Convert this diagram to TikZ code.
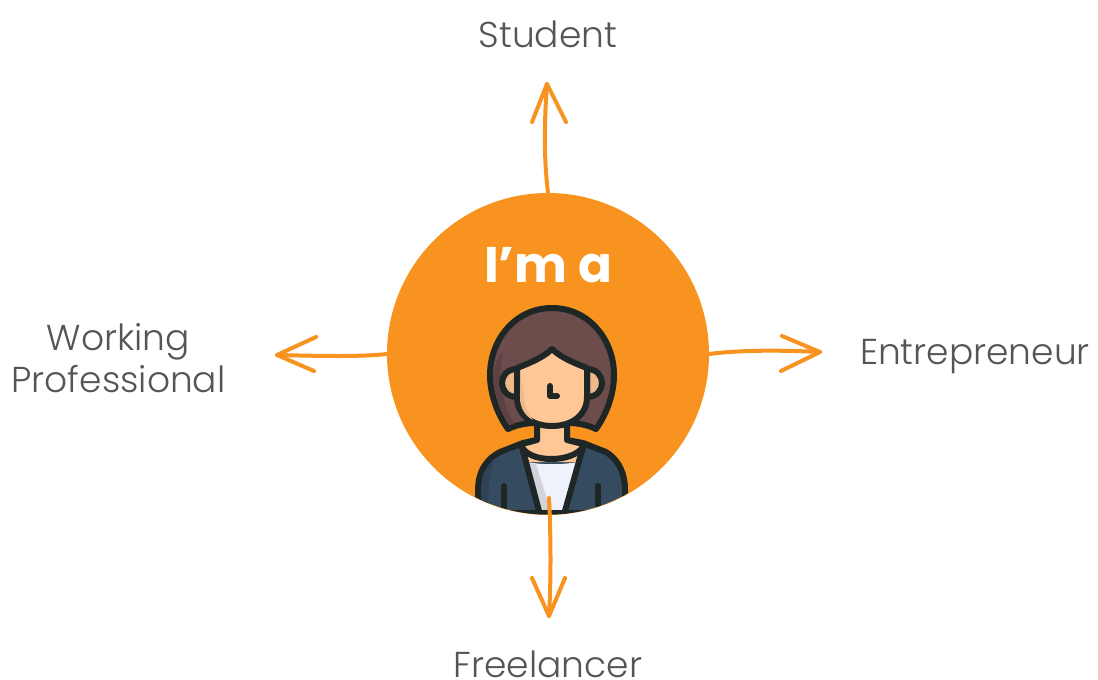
\documentclass[tikz,border=0pt]{standalone}
\usepackage{fontspec}
\setmainfont{Poppins}[UprightFont=* Light,BoldFont=* Bold]
\definecolor{org}{HTML}{F7931E}
\definecolor{ink}{HTML}{1F2626}
\definecolor{hairc}{HTML}{6D4C4C}
\definecolor{hairdk}{HTML}{5E4142}
\definecolor{skin}{HTML}{FEC795}
\definecolor{skindk}{HTML}{EEB98A}
\definecolor{jack}{HTML}{344B60}
\definecolor{jackdk}{HTML}{2E4357}
\definecolor{shirt}{HTML}{EEF2FB}
\definecolor{shirtdk}{HTML}{D0D3DA}
\definecolor{txt}{HTML}{555555}
\tikzset{
  hubnode/.style={circle,fill=org,inner sep=0pt,minimum size=322pt},
  lab/.style={text=txt,font=\fontsize{36}{42}\selectfont,align=center,inner sep=0pt},
  conn/.style={draw=org,line width=4pt,line cap=round,line join=round},
  fig/.style={draw=ink,line width=6pt,line cap=round,line join=round},
}
\begin{document}
\begin{tikzpicture}[x=1pt,y=-1pt]
\useasboundingbox (0,0) rectangle (1098,680);
\node[hubnode] (hub) at (548,354) {};
\node[font=\fontsize{50}{50}\selectfont\bfseries,text=white,inner sep=0pt] (title) at (548,265) {I’m a};
\node[lab] (student) at (548,34) {Student};
\node[lab] (entre) at (975,357) {Entrepreneur};
\node[lab] (freel) at (548,664) {Freelancer};
\node[lab] (work) at (118.5,358.5) {Working\\Professional};
\coordinate (tt) at (547,84);
\coordinate (tr) at (820,352);
\coordinate (tb) at (549,616);
\coordinate (tl) at (277,355);
\coordinate (bs) at (549,498);
\begin{scope}
\clip (548,354) circle (160.5);
% hair
\path[fig,fill=hairc] (552,308) .. controls (515,308) and (490,340) .. (490,375)
  .. controls (490,395) and (498,415) .. (508,429)
  .. controls (516,425) and (526,423) .. (536,423) -- (568,423)
  .. controls (578,423) and (588,425) .. (596,429)
  .. controls (606,415) and (614,395) .. (614,375)
  .. controls (614,340) and (589,308) .. (552,308) -- cycle;
\fill[hairdk] (494,375) .. controls (494,395) and (500,412) .. (510,425) -- (514,424)
  .. controls (503,405) and (497,380) .. (503,352) .. controls (497,358) and (494,366) .. (494,375) -- cycle;
% ears
\path[fig,fill=skindk] (517,369) .. controls (507,369) and (502,376) .. (502,383) .. controls (502,390) and (507,397) .. (517,397) -- cycle;
\path[fig,fill=skindk] (587,369) .. controls (597,369) and (602,376) .. (602,383) .. controls (602,390) and (597,397) .. (587,397) -- cycle;
% body
\path[fig,fill=jack] (478,520) -- (478,490) .. controls (478,470) and (488,458) .. (500,452)
  -- (523,443) -- (537,440) -- (567,440) -- (583,443) -- (606,452)
  .. controls (616,458) and (625,470) .. (625,490) -- (625,520) -- cycle;
\fill[jackdk] (481,512) -- (481,490) .. controls (481,475) and (487,465) .. (495,458) .. controls (490,470) and (488,485) .. (488,512) -- cycle;
% neck and collar skin
\fill[skin] (537,425) -- (567,425) -- (567,440) -- (583,445) -- (578,462) -- (526,462) -- (521,445) -- (537,440) -- cycle;
% shirt
\fill[shirt] (527,462) .. controls (542,465) and (562,465) .. (577,462) -- (563,512) -- (540,512) -- cycle;
\fill[shirtdk] (527,462) .. controls (530,463) and (533,464) .. (536,464) -- (551,512) -- (540,512) -- cycle;
\draw[fig] (522,447) .. controls (530,463) and (572,463) .. (583,447);
\draw[fig] (522,447) -- (539,511);
\draw[fig] (583,447) -- (565,511);
\draw[fig] (537,425) -- (537,440) -- (522,444);
\draw[fig] (567,425) -- (567,440) -- (583,444);
\draw[fig] (504,486) -- (504,512);
\draw[fig] (598,486) -- (598,505);
\draw[fig] (470,513) -- (640,513);
% face
\path[fig,fill=skin] (552,349) .. controls (544,357) and (530,363) .. (517,368) -- (517,397)
  .. controls (517,415) and (532,426) .. (552,426)
  .. controls (572,426) and (587,415) .. (587,397) -- (587,368)
  .. controls (574,363) and (560,357) .. (552,349) -- cycle;
\fill[skindk] (520,385) -- (520,397) .. controls (520,408) and (525,416) .. (533,420) .. controls (526,412) and (523,400) .. (523,385) -- cycle;
\draw[fig] (550,386) -- (550,396) -- (557,396);
\end{scope}
% arrows
\draw[conn] (hub.90) .. controls (544,160) and (544,125) .. (tt);
\draw[conn] (532,122) -- (tt) -- (566,122);
\draw[conn] (hub.0) .. controls (740,350) and (780,350) .. (tr);
\draw[conn] (782,336) -- (tr) -- (781,371);
\draw[conn] (hub.180) .. controls (360,357) and (320,356) .. (tl);
\draw[conn] (316,337) -- (tl) -- (314,371);
\draw[conn] (bs) .. controls (551,540) and (551,580) .. (tb);
\draw[conn] (532,578) -- (tb) -- (565,578);
\end{tikzpicture}
\end{document}
